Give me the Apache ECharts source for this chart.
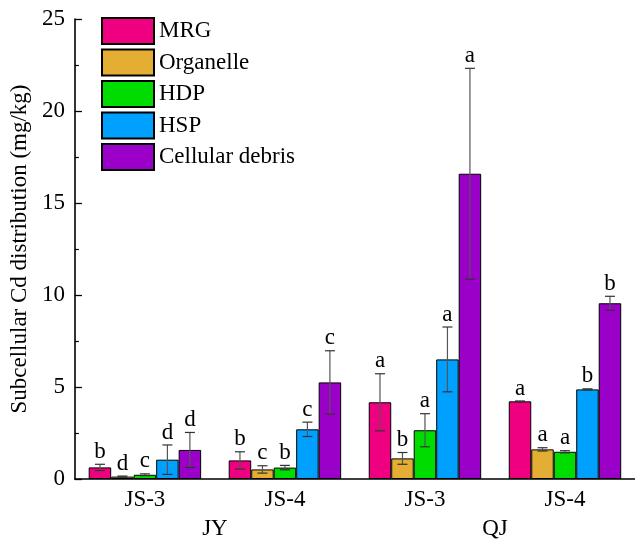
<!DOCTYPE html>
<html>
<head>
<meta charset="utf-8">
<script src="https://cdn.jsdelivr.net/npm/echarts@6/dist/echarts.min.js"></script>
<style>html,body{margin:0;padding:0;background:#fff;}#c{width:635px;height:541px;}</style>
</head>
<body>
<div id="c"></div>
<script>
// Categories
const cultivars = ['JS-3', 'JS-4', 'JS-3', 'JS-4'];
const regions = ['JY', 'QJ'];
const fractions = ['MRG', 'Organelle', 'HDP', 'HSP', 'Cellular debris'];
const colors = ['#EE0080', '#E3AE33', '#00DC00', '#00A0FF', '#9B00C8'];

// Means (mg/kg)
const mrg = [0.63, 1.01, 4.17, 4.22];
const organelle = [0.13, 0.52, 1.12, 1.61];
const hdp = [0.23, 0.62, 2.65, 1.48];
const hsp = [1.05, 2.70, 6.50, 4.87];
const debris = [1.58, 5.25, 16.59, 9.55];

// Error (SD)
const mrgErr = [0.17, 0.47, 1.55, 0.02];
const organelleErr = [0.03, 0.20, 0.32, 0.09];
const hdpErr = [0.05, 0.12, 0.90, 0.06];
const hspErr = [0.80, 0.39, 1.76, 0.03];
const debrisErr = [0.95, 1.72, 5.73, 0.38];

// Significance letters
const mrgSig = ['b', 'b', 'a', 'a'];
const organelleSig = ['d', 'c', 'b', 'a'];
const hdpSig = ['c', 'b', 'a', 'a'];
const hspSig = ['d', 'c', 'a', 'b'];
const debrisSig = ['d', 'c', 'a', 'b'];

// Y ticks
const yMin = 0, yMax = 25, yStep = 5;

const values = [mrg, organelle, hdp, hsp, debris];
const errs = [mrgErr, organelleErr, hdpErr, hspErr, debrisErr];
const sigs = [mrgSig, organelleSig, hdpSig, hspSig, debrisSig];

const FONT = '"Liberation Serif", "Times New Roman", serif';
const CAT_GAP = 0.197;

const series = [];
fractions.forEach((name, si) => {
  series.push({
    type: 'bar', name: name, data: values[si],
    barGap: '0%', barCategoryGap: (CAT_GAP * 100) + '%',
    itemStyle: { color: colors[si], borderColor: '#000', borderWidth: 1 },
    z: 2
  });
});
fractions.forEach((name, si) => {
  series.push({
    type: 'custom', name: 'err-' + name,
    data: values[si].map((v, i) => [i, v, errs[si][i]]),
    z: 10,
    renderItem: function (params, api) {
      const i = api.value(0), v = api.value(1), e = api.value(2);
      const band = api.size([1, 0])[0];
      const bw = band * (1 - CAT_GAP) / 5;
      const center = api.coord([i, 0])[0];
      const x = center - 2.5 * bw + (si + 0.5) * bw;
      const yT = api.coord([i, v + e])[1];
      const yB = api.coord([i, Math.max(v - e, 0)])[1];
      const cap = 5;
      const letter = sigs[si][params.dataIndex];
      return {
        type: 'group',
        children: [
          { type: 'line', shape: { x1: x, y1: yT, x2: x, y2: yB }, style: { stroke: '#555', lineWidth: 1.2 } },
          { type: 'line', shape: { x1: x - cap, y1: yT, x2: x + cap, y2: yT }, style: { stroke: '#333', lineWidth: 1.2 } },
          { type: 'line', shape: { x1: x - cap, y1: yB, x2: x + cap, y2: yB }, style: { stroke: '#333', lineWidth: 1.2 } },
          { type: 'text', style: { text: letter, x: x, y: yT - 1, align: 'center', verticalAlign: 'bottom', font: '23px ' + FONT, fill: '#000' } }
        ]
      };
    }
  });
});

const chart = echarts.init(document.getElementById('c'), null, { renderer: 'canvas' });
chart.setOption({
  animation: false,
  backgroundColor: '#fff',
  textStyle: { fontFamily: FONT },
  grid: { left: 70, top: 19, bottom: 62, width: 568, containLabel: false },
  legend: {
    data: fractions,
    orient: 'vertical', left: 96, top: 12,
    itemWidth: 52, itemHeight: 26, itemGap: 3.5,
    icon: 'rect',
    textStyle: { fontFamily: FONT, fontSize: 23, color: '#000' }
  },
  xAxis: [
    {
      type: 'category', data: cultivars, position: 'bottom',
      axisLine: { show: true, lineStyle: { color: '#000', width: 1.6 } },
      axisTick: { show: false },
      axisLabel: { fontFamily: FONT, fontSize: 23, color: '#000', margin: 9 }
    },
    {
      type: 'category', data: regions, position: 'bottom',
      axisLine: { show: false }, axisTick: { show: false },
      axisLabel: { fontFamily: FONT, fontSize: 23, color: '#000', margin: 38 }
    }
  ],
  yAxis: {
    type: 'value', min: yMin, max: yMax, interval: yStep,
    name: 'Subcellular Cd distribution (mg/kg)',
    nameLocation: 'middle', nameGap: 36, nameRotate: 90,
    nameTextStyle: { fontFamily: FONT, fontSize: 23, color: '#000' },
    axisLine: { show: true, lineStyle: { color: '#000', width: 1.6 } },
    axisTick: { show: true, inside: true, length: 7, lineStyle: { color: '#000', width: 1.3 } },
    minorTick: { show: true, splitNumber: 2, length: 4, lineStyle: { color: '#000', width: 1.2 } },
    splitLine: { show: false },
    axisLabel: { fontFamily: FONT, fontSize: 23, color: '#000', margin: 10 }
  },
  series: series
});
</script>
</body>
</html>
